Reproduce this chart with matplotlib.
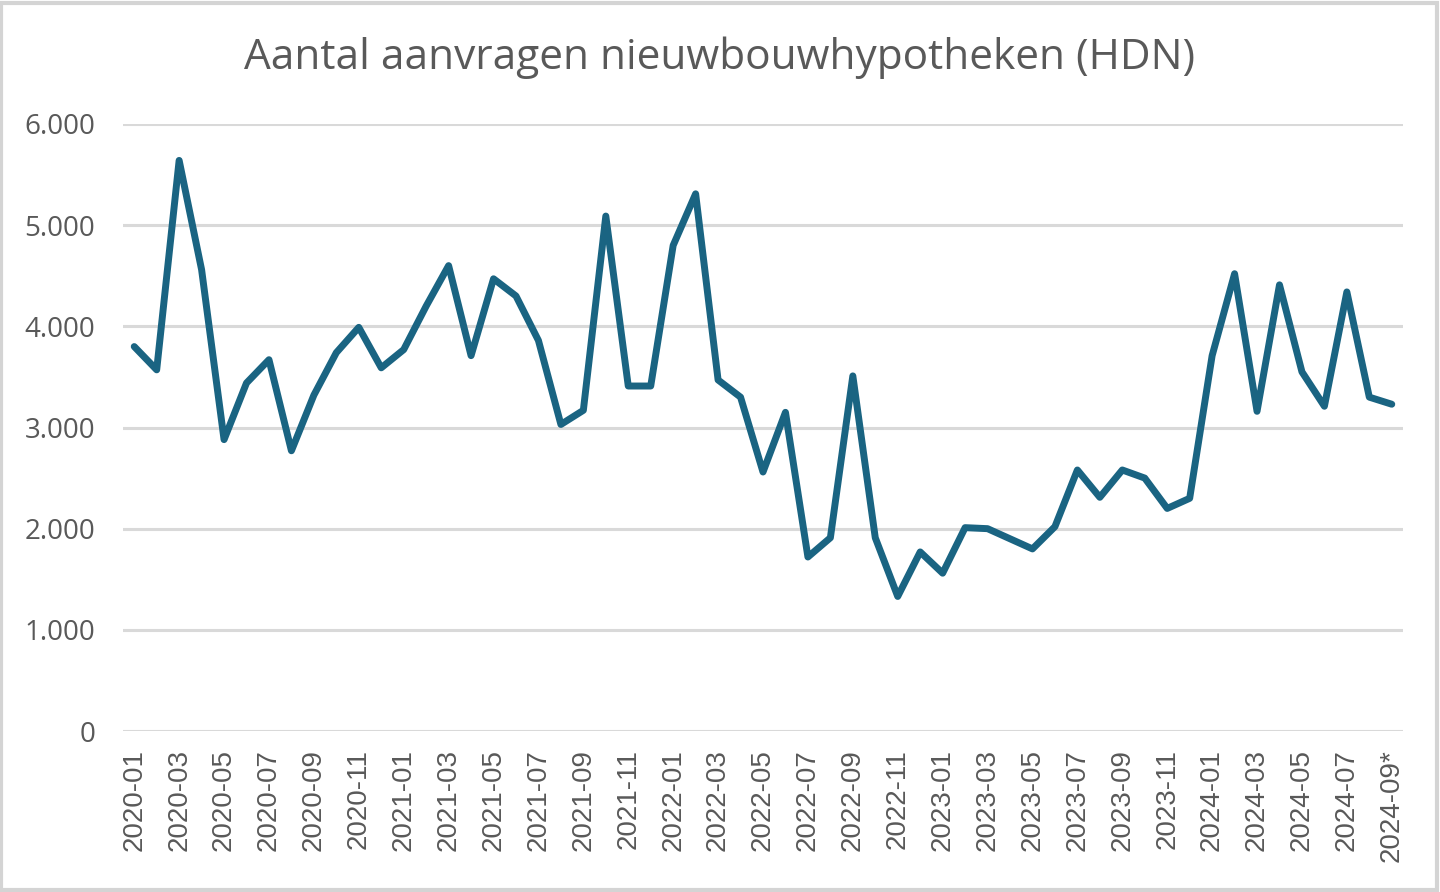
import matplotlib
matplotlib.use('Agg')
import matplotlib.pyplot as plt
from matplotlib.patches import Rectangle
import numpy as np

# maanden 2020-01 t/m 2024-09
maanden = []
for jaar in range(2020, 2025):
    for m in range(1, 13):
        if jaar == 2024 and m > 9:
            break
        maanden.append('%d-%02d' % (jaar, m))
maanden[-1] = maanden[-1] + '*'

aanvragen = [3800, 3570, 5640, 4560, 2880, 3440, 3670, 2770, 3320, 3740, 3990, 3590,
             3770, 4200, 4600, 3710, 4470, 4300, 3860, 3030, 3170, 5090, 3410, 3410,
             4800, 5310, 3470, 3300, 2560, 3150, 1720, 1910, 3510, 1910, 1330, 1770,
             1560, 2010, 2000, 1900, 1800, 2020, 2580, 2310, 2580, 2500, 2200, 2300,
             3710, 4520, 3160, 4410, 3550, 3210, 4340, 3300, 3230]

yticks = [0, 1000, 2000, 3000, 4000, 5000, 6000]
ylabels = ['0', '1.000', '2.000', '3.000', '4.000', '5.000', '6.000']

grijs = '#595959'
lijnkleur = '#1a6482'

fig = plt.figure(figsize=(14.4, 8.92), dpi=100)
ax = fig.add_axes([123/1440, 1 - 731/892, (1403-123)/1440, (731-124)/892])

x = np.arange(len(aanvragen))
ax.plot(x, aanvragen, color=lijnkleur, linewidth=5, solid_joinstyle='round',
        solid_capstyle='round', zorder=3)

ax.set_xlim(-0.5, len(aanvragen) - 0.5)
ax.set_ylim(0, 6000)
ax.set_yticks(yticks)
ax.set_yticklabels(ylabels, fontsize=20, color=grijs, family='Open Sans')
ax.set_xticks(x[::2])
ax.set_xticklabels(maanden[::2], rotation=90, fontsize=20, color=grijs,
                   family='Liberation Sans', va='top')
ax.tick_params(axis='both', length=0)
ax.tick_params(axis='y', pad=20)
ax.tick_params(axis='x', pad=13)

ax.grid(axis='y', color='#d9d9d9', linewidth=2.2, zorder=0)
for s in ax.spines.values():
    s.set_visible(False)

fig.text(0.5, 1 - 58/892, 'Aantal aanvragen nieuwbouwhypotheken (HDN)', ha='center', va='center',
         fontsize=30.5, color=grijs, family='Open Sans')

fig.patches.append(Rectangle((0.001, 0.002), 0.997, 0.995, transform=fig.transFigure,
                             fill=False, edgecolor='#d4d4d4', linewidth=3))

plt.savefig('out.png', dpi=100)
plt.close('all')
